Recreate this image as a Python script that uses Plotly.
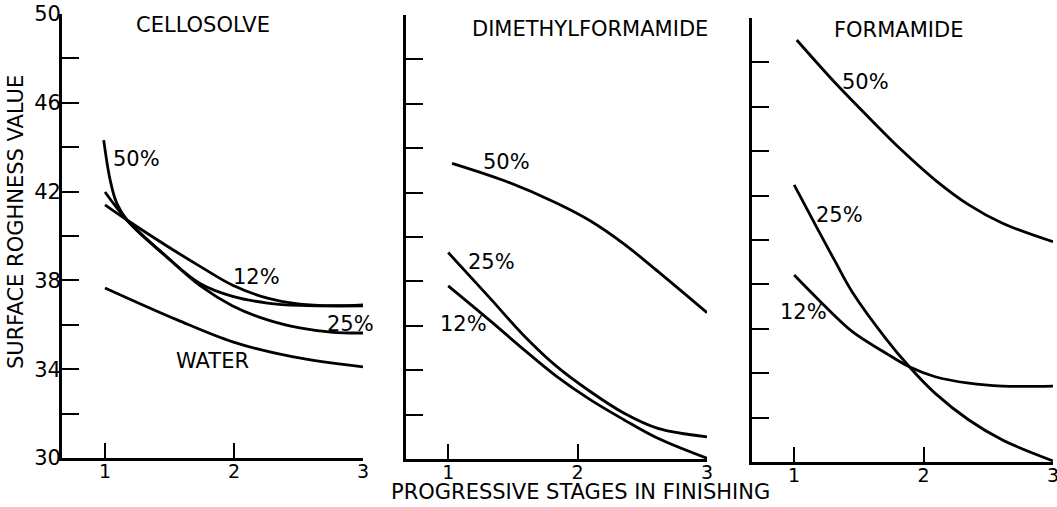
import plotly.graph_objects as go

# Progressive finishing stages (x) and surface roughness values (y) per solvent
cello_12_x = [1.0, 1.17, 1.48, 1.74, 1.99, 2.26, 2.51, 2.77, 3.0]
cello_12_y = [41.4, 40.72, 39.55, 38.62, 37.78, 37.2, 36.93, 36.86, 36.9]
cello_25_x = [1.0, 1.17, 1.48, 1.74, 1.99, 2.26, 2.51, 2.77, 3.0]
cello_25_y = [41.98, 40.72, 39.05, 37.75, 36.85, 36.22, 35.86, 35.66, 35.63]
cello_50_x = [0.99, 1.04, 1.09, 1.17, 1.48, 1.74, 1.99, 2.26, 2.51, 3.0]
cello_50_y = [44.32, 42.52, 41.49, 40.72, 39.05, 37.85, 37.28, 36.98, 36.87, 36.85]
water_x = [1.0, 1.56, 1.99, 2.46, 3.0]
water_y = [37.66, 36.22, 35.23, 34.55, 34.1]

dmf_50_x = [1.03, 1.455, 1.84, 2.10, 2.36, 2.62, 3.0]
dmf_50_y = [43.32, 42.49, 41.52, 40.72, 39.68, 38.45, 36.59]
dmf_25_x = [1.0, 1.33, 1.58, 1.84, 2.10, 2.36, 2.62, 3.0]
dmf_25_y = [39.3, 37.2, 35.59, 34.16, 33.03, 32.06, 31.38, 31.0]
dmf_12_x = [1.0, 1.33, 1.58, 1.84, 2.10, 2.36, 2.62, 3.0]
dmf_12_y = [37.8, 36.2, 34.95, 33.71, 32.66, 31.76, 30.93, 30.03]

form_50_x = [1.02, 1.32, 1.58, 1.83, 2.09, 2.35, 2.61, 3.0]
form_50_y = [49.01, 47.06, 45.5, 44.05, 42.7, 41.58, 40.75, 39.92]
form_25_x = [1.0, 1.19, 1.32, 1.45, 1.71, 1.89, 2.09, 2.35, 2.61, 3.0]
form_25_y = [42.48, 40.4, 39.0, 37.65, 35.55, 34.29, 33.09, 31.89, 30.99, 30.05]
form_12_x = [1.0, 1.19, 1.45, 1.71, 1.89, 2.09, 2.35, 2.61, 3.0]
form_12_y = [38.42, 37.3, 35.87, 34.9, 34.29, 33.84, 33.55, 33.42, 33.42]

y_ticks = [30, 32, 34, 36, 38, 40, 42, 44, 46, 48, 50]
y_tick_text = ["30", "", "34", "", "38", "", "42", "", "46", "", "50"]
x_ticks = [1, 2, 3]
x_tick_text = ["1", "2", "3"]

panel_titles = ["CELLOSOLVE", "DIMETHYLFORMAMIDE", "FORMAMIDE"]

FONT = "DejaVu Sans"
INK = "black"

fig = go.Figure()

series = [
    (cello_12_x, cello_12_y, "Cellosolve 12%", 1),
    (cello_25_x, cello_25_y, "Cellosolve 25%", 1),
    (cello_50_x, cello_50_y, "Cellosolve 50%", 1),
    (water_x, water_y, "Water", 1),
    (dmf_50_x, dmf_50_y, "Dimethylformamide 50%", 2),
    (dmf_25_x, dmf_25_y, "Dimethylformamide 25%", 2),
    (dmf_12_x, dmf_12_y, "Dimethylformamide 12%", 2),
    (form_50_x, form_50_y, "Formamide 50%", 3),
    (form_25_x, form_25_y, "Formamide 25%", 3),
    (form_12_x, form_12_y, "Formamide 12%", 3),
]
for xs, ys, name, p in series:
    suffix = "" if p == 1 else str(p)
    fig.add_trace(go.Scatter(
        x=xs, y=ys, name=name, mode="lines",
        line=dict(color=INK, width=2.8, shape="spline", smoothing=1.0),
        xaxis="x" + suffix, yaxis="y" + suffix, showlegend=False,
    ))

# Panel geometry: x domains and y domains in paper units
x_domains = [[0.0587, 0.3434], [0.3841, 0.6689], [0.7114, 0.9962]]
y_domains = [[0.0967, 0.9724], [0.0947, 0.9704], [0.0888, 0.9645]]
x_starts = [0.667, 0.674, 0.674]

layout = dict(
    width=1057, height=507,
    margin=dict(l=0, r=0, t=0, b=0),
    paper_bgcolor="white", plot_bgcolor="white",
    font=dict(family=FONT, color=INK, size=20),
    showlegend=False,
)
for i in range(3):
    suffix = "" if i == 0 else str(i + 1)
    layout["xaxis" + suffix] = dict(
        domain=x_domains[i], range=[x_starts[i], 3.0],
        anchor="y" + suffix, automargin=False,
        tickmode="array", tickvals=x_ticks, ticktext=x_tick_text,
        ticks="inside", ticklen=15, tickwidth=2.2, tickcolor=INK,
        showline=True, linewidth=2.8, linecolor=INK,
        showgrid=False, zeroline=False,
        ticklabelstandoff=-6, ticklabeloverflow="allow",
        tickfont=dict(family=FONT, size=19, color=INK),
    )
    layout["yaxis" + suffix] = dict(
        domain=y_domains[i], range=[30, 50],
        anchor="x" + suffix, automargin=False,
        tickmode="array", tickvals=y_ticks,
        ticktext=y_tick_text if i == 0 else [""] * len(y_ticks),
        ticks="inside", ticklen=17, tickwidth=2.2, tickcolor=INK,
        showline=True, linewidth=2.8, linecolor=INK,
        showgrid=False, zeroline=False,
        ticklabelstandoff=-6, ticklabeloverflow="allow",
        tickfont=dict(family=FONT, size=21, color=INK),
    )
fig.update_layout(**layout)

# Rotated y-axis caption placed beside the first panel
fig.add_annotation(x=16 / 1057, y=(507 - 222) / 507, xref="paper", yref="paper",
                   xanchor="center", yanchor="middle",
                   text="SURFACE ROGHNESS VALUE", textangle=-90, showarrow=False,
                   font=dict(family=FONT, size=21, color=INK))

# Panel headings
title_pos = [(1.756, 49.5), (2.093, 49.39), (1.806, 49.46)]
for i, (t, (tx, ty)) in enumerate(zip(panel_titles, title_pos)):
    suffix = "" if i == 0 else str(i + 1)
    fig.add_annotation(x=tx, y=ty, xref="x" + suffix, yref="y" + suffix,
                       xanchor="center", yanchor="middle",
                       text=t, showarrow=False,
                       font=dict(family=FONT, size=21, color=INK))

# Curve labels
curve_labels = [
    ("50%", 1.244, 43.47, 1), ("12%", 2.178, 38.15, 1),
    ("25%", 2.90, 36.04, 1), ("WATER", 1.83, 34.37, 1),
    ("50%", 1.45, 43.38, 2), ("25%", 1.333, 38.87, 2), ("12%", 1.116, 36.08, 2),
    ("50%", 1.55, 47.12, 3), ("25%", 1.35, 41.13, 3), ("12%", 1.07, 36.76, 3),
]
for txt, lx, ly, p in curve_labels:
    suffix = "" if p == 1 else str(p)
    fig.add_annotation(x=lx, y=ly, xref="x" + suffix, yref="y" + suffix,
                       xanchor="center", yanchor="middle",
                       text=txt, showarrow=False,
                       font=dict(family=FONT, size=21, color=INK))

# Shared x-axis caption
fig.add_annotation(x=580 / 1057, y=(507 - 492) / 507, xref="paper", yref="paper",
                   xanchor="center", yanchor="middle",
                   text="PROGRESSIVE STAGES IN FINISHING", showarrow=False,
                   font=dict(family=FONT, size=21, color=INK))

fig.write_html("out.html")
